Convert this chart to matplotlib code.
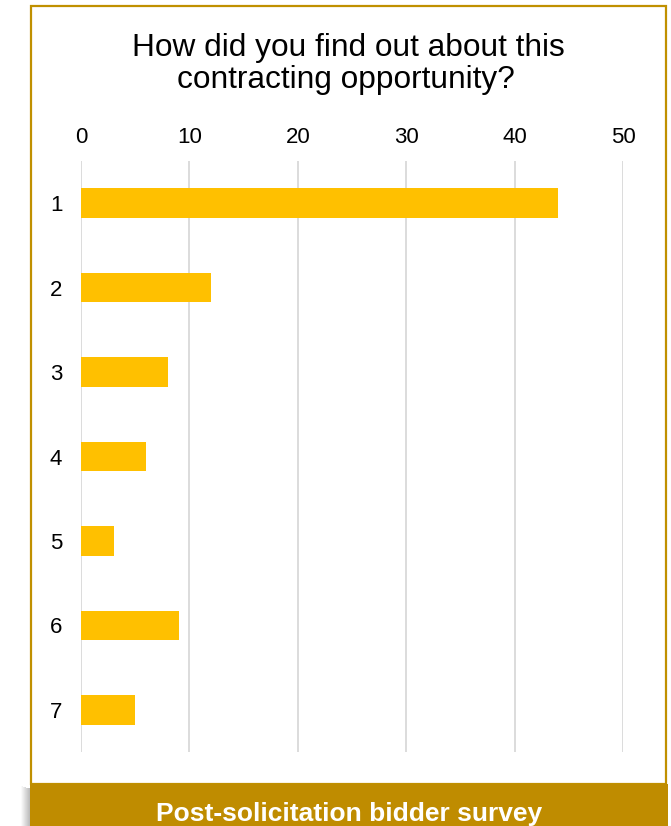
import matplotlib
matplotlib.use("Agg")
import matplotlib.pyplot as plt
from matplotlib.patches import Rectangle

plt.rcParams['font.family'] = ['Liberation Sans', 'DejaVu Sans']

categories = ["1", "2", "3", "4", "5", "6", "7"]
values = [44, 12, 8, 6, 3, 9, 5]
xticks = [0, 10, 20, 30, 40, 50]
title_lines = ["How did you find out about this", "contracting opportunity?"]
banner = "Post-solicitation bidder survey"

W, H = 671, 826
fig = plt.figure(figsize=(W / 100, H / 100), dpi=100)

def fx(px):
    return px / W

def fy(py):
    return 1 - py / H

# outer gold frame
fig.patches.append(Rectangle((fx(31), fy(784)), fx(666) - fx(31), fy(6) - fy(784),
                             transform=fig.transFigure, facecolor="white",
                             edgecolor="#C09000", linewidth=1.6, zorder=-2))
# shadow left of banner
for i in range(10):
    fig.patches.append(Rectangle((fx(21 + i), fy(826)), fx(1), fy(786 + i * 0.3) - fy(826),
                                 transform=fig.transFigure, facecolor="black",
                                 alpha=0.02 + 0.03 * i, edgecolor="none", zorder=-1))
# banner
fig.patches.append(Rectangle((fx(30), 0), fx(668) - fx(30), fy(784),
                             transform=fig.transFigure, facecolor="#BF8C00",
                             edgecolor="none", zorder=-1))
fig.text(fx(349), fy(821), banner, color="white", fontsize=19, fontweight="bold",
         ha="center", va="baseline", zorder=3)

ax = fig.add_axes([fx(81), fy(752), fx(623) - fx(81), fy(161) - fy(752)])
ax.set_zorder(5)
ax.set_facecolor("none")
ypos = list(range(len(categories)))
ax.barh(ypos, values, height=0.35, color="#FFC000", zorder=3)
ax.set_xlim(0, 50)
ax.set_ylim(len(categories) - 0.5, -0.5)
ax.set_yticks(ypos)
ax.set_yticklabels(categories)
ax.set_xticks(xticks)
ax.xaxis.tick_top()
ax.tick_params(axis="both", length=0, labelsize=16, colors="black")
ax.tick_params(axis="x", pad=9.5)
ax.tick_params(axis="y", pad=13.5)
for s in ax.spines.values():
    s.set_visible(False)
ax.grid(axis="x", color="#D9D9D9", linewidth=1.3, zorder=0)
ax.set_axisbelow(True)

fig.text(fx(348.5), fy(56), title_lines[0], fontsize=22.8, ha="center", va="baseline",
         color="black")
fig.text(fx(346), fy(88), title_lines[1], fontsize=22.8, ha="center", va="baseline",
         color="black")

fig.savefig("out.png", dpi=100)
